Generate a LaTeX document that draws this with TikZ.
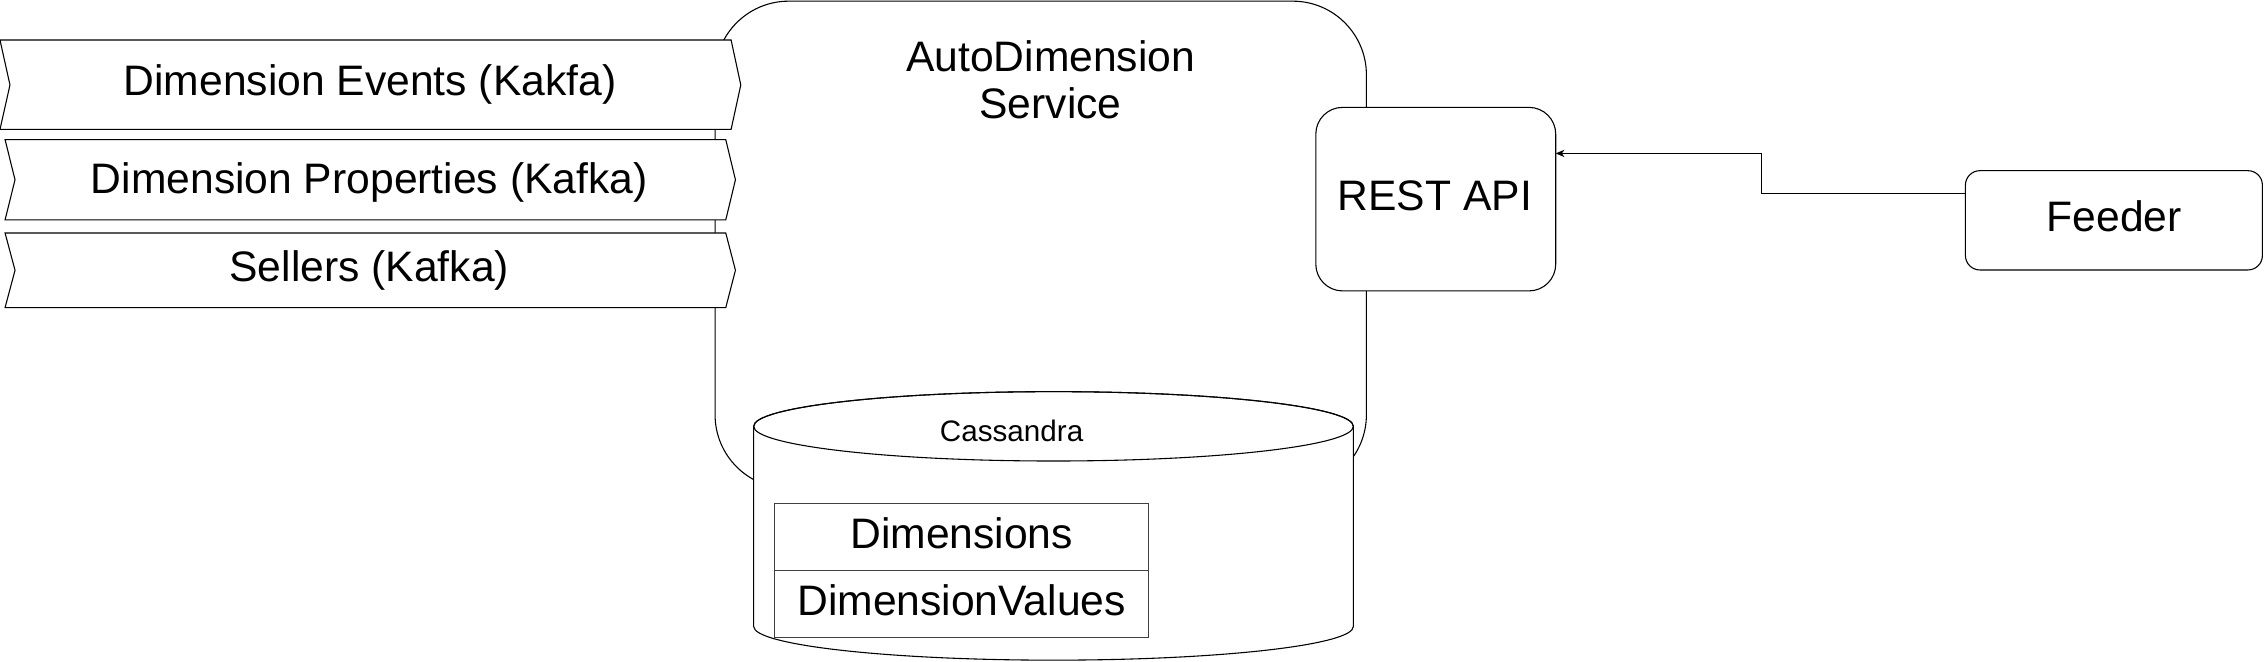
\documentclass[tikz,border=0pt]{standalone}
\usepackage{fontspec}
\setmainfont{Liberation Sans}
\usetikzlibrary{arrows.meta}
\tikzset{
  lbl/.style={font=\fontsize{29.5}{33}\selectfont, inner sep=0pt},
  smalllbl/.style={font=\fontsize{20.5}{22}\selectfont, inner sep=0pt},
  box/.style={draw, fill=white, inner sep=0pt, outer sep=0pt, anchor=north west},
  banner/.style={draw, fill=white, line join=miter},
  tbl/.style={draw=black!75, fill=white, inner sep=0pt, outer sep=0pt, anchor=north west},
}
\begin{document}
\begin{tikzpicture}[x=1pt, y=-1pt, line width=0.75pt]
\useasboundingbox (0,0) rectangle (1568,458);
\fill[white] (0,0) rectangle (1568,458);

% AutoDimension service container
\node[box, rounded corners=51pt, minimum width=450.7pt, minimum height=337.2pt] (svc) at (494.8,0.8) {};
\node[lbl, align=center, anchor=north] (svctext) at (727,27.5) {AutoDimension\\Service};

% REST API
\node[box, rounded corners=18.5pt, minimum width=166pt, minimum height=127pt] (rest) at (910.5,74.3) {};
\node[lbl, anchor=base] (resttext) at (992.8,146) {REST API};

% Banners (Kafka topics)
\draw[banner] (0,27.7) -- (505.9,27.7) -- (512.6,58.8) -- (505.9,89.5) -- (0,89.5) -- (6.9,58.8) -- cycle;
\node[lbl, anchor=base] (events) at (256,66.4) {Dimension Events (Kakfa)};

\draw[banner] (3.5,96.6) -- (502.2,96.6) -- (508.9,124.4) -- (502.2,152.2) -- (3.5,152.2) -- (10.4,124.4) -- cycle;
\node[lbl, anchor=base] (props) at (255.5,133.8) {Dimension Properties (Kafka)};

\draw[banner] (3.5,161.2) -- (502.2,161.2) -- (508.9,187) -- (502.2,212.9) -- (3.5,212.9) -- (10.4,187) -- cycle;
\node[lbl, anchor=base] (sellers) at (255.5,194.9) {Sellers (Kafka)};

% Cassandra cylinder
\draw[fill=white] (521.5,295) -- (521.5,433.5)
  arc[start angle=180, end angle=360, x radius=207.5pt, y radius=23.3pt]
  -- (936.5,295)
  arc[start angle=0, end angle=180, x radius=207.5pt, y radius=24pt] -- cycle;
\draw (729,295) ellipse [x radius=207.5pt, y radius=24pt];
\node[smalllbl, anchor=base] (cass) at (700,305.7) {Cassandra};

% Tables
\node[tbl, minimum width=258.6pt, minimum height=46.7pt] (dims) at (536.1,348.3) {};
\node[tbl, minimum width=258.6pt, minimum height=46.3pt] (dimv) at (536.1,395) {};
\node[lbl, anchor=base] (dimstext) at (665.4,379.5) {Dimensions};
\node[lbl, anchor=base] (dimvtext) at (665.4,425.6) {DimensionValues};

% Feeder
\node[box, rounded corners=10pt, minimum width=205.5pt, minimum height=68.7pt] (feeder) at (1360,118.1) {};
\node[lbl, anchor=base] (feedertext) at (1463,160.3) {Feeder};

% Connector
\draw[-{Stealth[length=6pt, width=5pt, inset=1.8pt]}]
  ([yshift=18.65pt]feeder.west) -- ++(-141.4,0) |- ([yshift=31.65pt]rest.east);
\end{tikzpicture}
\end{document}
